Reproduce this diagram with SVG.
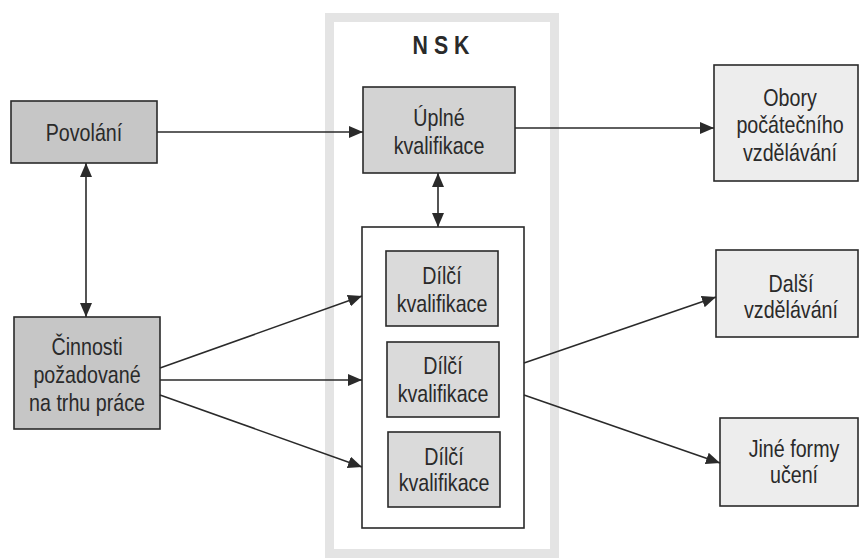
<svg xmlns="http://www.w3.org/2000/svg" width="860" height="560" viewBox="0 0 860 560">
<style>
.t{font-family:"Liberation Sans",Arial,sans-serif;font-size:24px;fill:#2a2a2a;text-anchor:middle}
.b{stroke:#2a2a2a;stroke-width:1.6}
.dark{fill:#c6c6c6}
.mid{fill:#d3d3d3}
.dil{fill:#dadada}
.light{fill:#ededed}
.c{stroke:#2a2a2a;stroke-width:1.6;fill:none}
</style>
<defs>
<marker id="ah" markerUnits="userSpaceOnUse" markerWidth="14" markerHeight="12" viewBox="0 0 14 12" refX="14" refY="6" orient="auto-start-reverse">
<path d="M0,0 L14,6 L0,12 Z" fill="#2a2a2a"/>
</marker>
</defs>
<rect width="860" height="560" fill="#ffffff"/>
<g id="nsk">
<rect x="329.5" y="17.5" width="225" height="536" fill="none" stroke="#e4e4e4" stroke-width="9"/>
<text class="t" transform="translate(441,54) scale(0.82,1)" style="font-size:26px;font-weight:bold">N S K</text>
</g>
<g id="container">
<rect class="b" x="362" y="227" width="162" height="301" fill="#ffffff"/>
</g>
<g id="povolani">
<rect class="b dark" x="11" y="101" width="146" height="62"/>
<text class="t" transform="translate(84,141) scale(0.82,1)">Povolání</text>
</g>
<g id="cinnosti">
<rect class="b dark" x="14" y="317" width="146" height="112"/>
<text class="t" transform="translate(87,355) scale(0.82,1)"><tspan x="0" y="0">Činnosti</tspan><tspan x="0" y="28">požadované</tspan><tspan x="0" y="56">na trhu práce</tspan></text>
</g>
<g id="uplne">
<rect class="b mid" x="363" y="87" width="152" height="86"/>
<text class="t" transform="translate(439,126) scale(0.82,1)"><tspan x="0" y="0">Úplné</tspan><tspan x="0" y="28">kvalifikace</tspan></text>
</g>
<g id="dilci1">
<rect class="b dil" x="386" y="251" width="112" height="75"/>
<text class="t" transform="translate(442,284) scale(0.82,1)"><tspan x="0" y="0">Dílčí</tspan><tspan x="0" y="28">kvalifikace</tspan></text>
</g>
<g id="dilci2">
<rect class="b dil" x="387" y="342" width="112" height="75"/>
<text class="t" transform="translate(443,374) scale(0.82,1)"><tspan x="0" y="0">Dílčí</tspan><tspan x="0" y="28">kvalifikace</tspan></text>
</g>
<g id="dilci3">
<rect class="b dil" x="388" y="432" width="112" height="75"/>
<text class="t" transform="translate(444,465) scale(0.82,1)"><tspan x="0" y="0">Dílčí</tspan><tspan x="0" y="26">kvalifikace</tspan></text>
</g>
<g id="obory">
<rect class="b light" x="714" y="65" width="144" height="116"/>
<text class="t" transform="translate(790,106) scale(0.82,1)"><tspan x="0" y="0">Obory</tspan><tspan x="0" y="27.5">počátečního</tspan><tspan x="0" y="55">vzdělávání</tspan></text>
</g>
<g id="dalsi">
<rect class="b light" x="716" y="250" width="142" height="87"/>
<text class="t" transform="translate(791,292) scale(0.82,1)"><tspan x="0" y="0">Další</tspan><tspan x="0" y="26">vzdělávání</tspan></text>
</g>
<g id="jine">
<rect class="b light" x="720" y="418" width="138" height="88"/>
<text class="t" transform="translate(794,457) scale(0.82,1)"><tspan x="0" y="0">Jiné formy</tspan><tspan x="0" y="26">učení</tspan></text>
</g>
<g id="connectors">
<line class="c" x1="157" y1="132" x2="363" y2="132" marker-end="url(#ah)"/>
<line class="c" x1="515" y1="128" x2="714" y2="128" marker-end="url(#ah)"/>
<line class="c" x1="438" y1="173" x2="438" y2="227" marker-start="url(#ah)" marker-end="url(#ah)"/>
<line class="c" x1="86" y1="163" x2="86" y2="317" marker-start="url(#ah)" marker-end="url(#ah)"/>
<line class="c" x1="160" y1="368" x2="362" y2="296" marker-end="url(#ah)"/>
<line class="c" x1="160" y1="380" x2="362" y2="380" marker-end="url(#ah)"/>
<line class="c" x1="160" y1="395" x2="362" y2="467" marker-end="url(#ah)"/>
<line class="c" x1="524" y1="363" x2="716" y2="297" marker-end="url(#ah)"/>
<line class="c" x1="524" y1="395" x2="720" y2="463" marker-end="url(#ah)"/>
</g>
</svg>
